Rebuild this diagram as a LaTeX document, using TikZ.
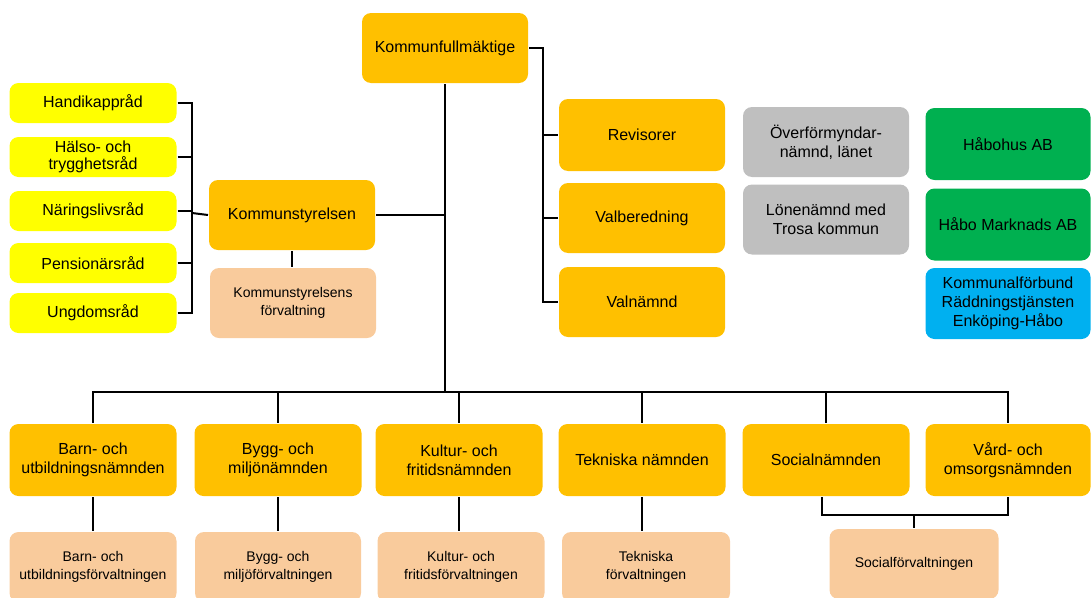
\documentclass[tikz,border=0pt]{standalone}
\usepackage{fontspec}
\setmainfont{Liberation Sans}
\usepackage{tikz}
\definecolor{guld}{HTML}{FFC000}
\definecolor{gul}{HTML}{FFFF00}
\definecolor{persika}{HTML}{F9CB9C}
\definecolor{gra}{HTML}{BFBFBF}
\definecolor{gron}{HTML}{00B050}
\definecolor{bla}{HTML}{00B0F0}

\begin{document}
\begin{tikzpicture}[x=1pt,y=-1pt,line width=2pt,
  box/.style={rectangle,rounded corners=9pt,minimum width=166pt,minimum height=70pt,align=center,inner sep=2pt,font=\fontsize{16}{19}\selectfont},
  namnd/.style={box,fill=guld},
  rad/.style={box,fill=gul,minimum height=40pt,minimum width=167pt},
  forv/.style={box,fill=persika,font=\fontsize{14}{17.5}\selectfont},
  ovr/.style={box,fill=gra},
  bolag/.style={box,fill=gron,minimum width=165pt,minimum height=72pt},
  forbund/.style={box,fill=bla,minimum width=165pt,minimum height=71pt}]
  \useasboundingbox (0,0) rectangle (1091,597);

  \node[namnd] (kf) at (445,48) {Kommunfullmäktige};

  % rad
  \node[rad] (hk) at (93,103) {Handikappråd};
  \node[rad] (ht) at (93,157) {Hälso- och\\[-2pt]trygghetsråd};
  \node[rad] (nl) at (93,211) {Näringslivsråd};
  \node[rad] (pr) at (93,263) {Pensionärsråd};
  \node[rad] (ud) at (93,313) {Ungdomsråd};

  \node[namnd] (ks) at (292,215) {Kommunstyrelsen};
  \node[forv] (ksf) at (293,303) {Kommunstyrelsens\\förvaltning};

  \node[namnd,minimum height=72pt] (rev) at (642,135) {Revisorer};
  \node[namnd] (vb) at (642,218) {Valberedning};
  \node[namnd] (vn) at (642,302) {Valnämnd};

  \node[ovr] (of) at (826,142) {Överförmyndar-\\nämnd, länet};
  \node[ovr] (ln) at (826,219.5) {Lönenämnd med\\Trosa kommun};

  \node[bolag] (hh) at (1008,144) {Håbohus AB};
  \node[bolag] (hm) at (1008,224.5) {Håbo Marknads AB};
  \node[forbund] (rt) at (1008,303.5) {Kommunalförbund\\Räddningstjänsten\\Enköping-Håbo};

  % nämnder
  \node[namnd,minimum width=167pt,minimum height=72pt] (bu) at (93,460) {Barn- och\\utbildningsnämnden};
  \node[namnd,minimum width=167pt,minimum height=72pt] (bm) at (278,460) {Bygg- och\\miljönämnden};
  \node[namnd,minimum width=167pt,minimum height=72pt] (kfr) at (459,460) {Kultur- och\\fritidsnämnden};
  \node[namnd,minimum width=167pt,minimum height=72pt] (tn) at (642,460) {Tekniska nämnden};
  \node[namnd,minimum width=167pt,minimum height=72pt] (sn) at (826,460) {Socialnämnden};
  \node[namnd,minimum width=165pt,minimum height=72pt] (vo) at (1008,460) {Vård- och\\omsorgsnämnden};

  % förvaltningar
  \node[forv,minimum width=167pt] (buf) at (93,567) {Barn- och\\utbildningsförvaltningen};
  \node[forv] (bmf) at (278,567) {Bygg- och\\miljöförvaltningen};
  \node[forv,minimum width=167pt] (kfrf) at (461,567) {Kultur- och\\fritidsförvaltningen};
  \node[forv,minimum width=168pt] (tnf) at (646,567) {Tekniska\\förvaltningen};
  \node[forv,minimum width=169pt] (sf) at (914,564) {Socialförvaltningen};

  \coordinate (lb) at (192,213);
  \coordinate (rb) at (543,48);
  \coordinate (bus) at (445,392);
  \coordinate (sj) at (914,515);

  \draw (kf.south) -- (bus);
  \draw (kf.east) -- (rb) |- (vn.west);
  \draw (rb) |- (rev.west);
  \draw (rb) |- (vb.west);
  \draw (ks.east) -- (ks.east -| kf.south);
  \draw (ks.south) -- (ks.south |- ksf.north);
  \draw (ks.west) -- (lb);
  \foreach \r in {hk,ht,nl,pr,ud}
    \draw (\r.east) -| (lb);
  \foreach \n in {bu,bm,kfr,tn,sn,vo}
    \draw (bus) -| (\n.north);
  \draw (bu.south) -- (bu.south |- buf.north);
  \draw (bm.south) -- (bm.south |- bmf.north);
  \draw (kfr.south) -- (kfr.south |- kfrf.north);
  \draw (tn.south) -- (tn.south |- tnf.north);
  \draw ([xshift=-4pt]sn.south) |- (sj) -| (vo.south);
  \draw (sj) -- (sf.north);
\end{tikzpicture}
\end{document}
